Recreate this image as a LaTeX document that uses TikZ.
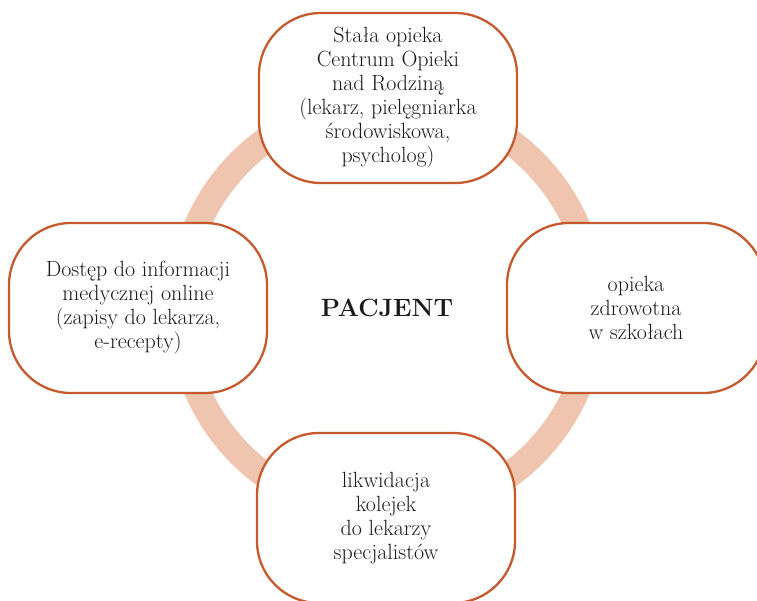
\documentclass[tikz,border=0pt]{standalone}
\usepackage{tikz}
\usetikzlibrary{positioning}
\definecolor{ringfill}{HTML}{EFC5AF}
\definecolor{boxline}{HTML}{C65A2E}
\definecolor{txt}{HTML}{1A1A1A}

\begin{document}
\begin{tikzpicture}[x=1pt,y=-1pt,
  box/.style={draw=boxline,line width=2.3pt,fill=white,rounded corners=62pt,
    minimum width=258pt,minimum height=170pt,align=center,text=txt,
    font=\fontsize{22}{24}\selectfont},
  ring/.style={draw=ringfill,line width=26pt}]
\useasboundingbox (0,0) rectangle (757,601);
% ring behind the boxes
\coordinate (c) at (387,308);
\draw[ring] (c) circle (207pt);
% centre
\node[font=\bfseries\fontsize{25}{28}\selectfont,text=txt] (pacjent) at (c) {PACJENT};
% boxes round the ring
\node[box] (stala) at (388,98) {Stała opieka\\Centrum Opieki\\nad Rodziną\\(lekarz, pielęgniarka\\środowiskowa,\\psycholog)};
\node[box] (szkoly) at (636,308) {opieka\\zdrowotna\\w szkołach};
\node[box] (kolejki) at (386,518) {likwidacja\\kolejek\\do lekarzy\\specjalistów};
\node[box] (online) at (138,308) {Dostęp do informacji\\medycznej online\\(zapisy do lekarza,\\e-recepty)};
\end{tikzpicture}
\end{document}
